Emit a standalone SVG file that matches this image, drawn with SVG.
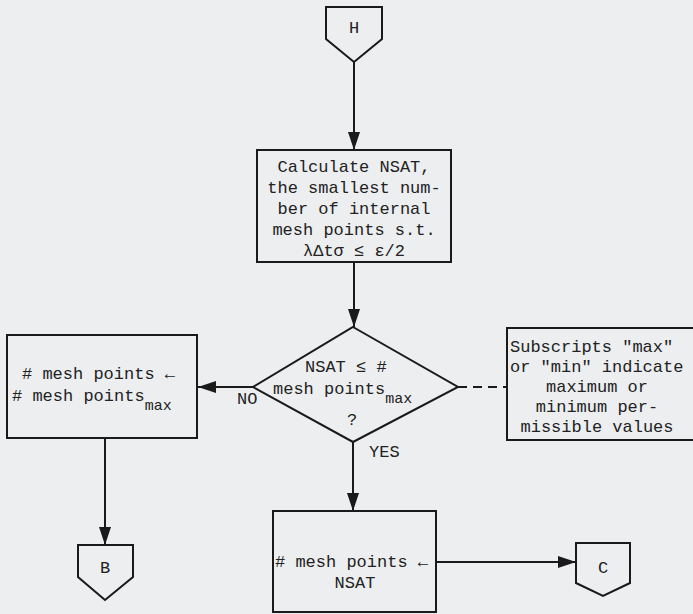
<svg xmlns="http://www.w3.org/2000/svg" width="693" height="614" viewBox="0 0 693 614">
<style>
.bg{fill:#eceef0}
.s{fill:none;stroke:#1a1a1a;stroke-width:2}
.c{stroke:#1a1a1a;stroke-width:2;fill:none}
.d{stroke:#1a1a1a;stroke-width:2;fill:none;stroke-dasharray:9 6}
text{font-family:'Liberation Mono','Courier New',monospace;font-size:17px;fill:#222}
.m{text-anchor:middle}
.sub{font-size:15px}
</style>
<defs>
<marker id="ah" viewBox="0 0 18 12" refX="18" refY="6" markerWidth="18" markerHeight="12" markerUnits="userSpaceOnUse" orient="auto">
<path d="M0,0 L18,6 L0,12 Z" fill="#1a1a1a"/>
</marker>
</defs>
<rect class="bg" x="0" y="0" width="693" height="614"/>
<g id="connectors">
<line class="c" x1="354" y1="62" x2="354" y2="150" marker-end="url(#ah)"/>
<line class="c" x1="354" y1="262" x2="354" y2="327" marker-end="url(#ah)"/>
<line class="c" x1="253" y1="387" x2="198" y2="387" marker-end="url(#ah)"/>
<line class="c" x1="353" y1="442" x2="353" y2="511" marker-end="url(#ah)"/>
<line class="c" x1="105" y1="438" x2="105" y2="545" marker-end="url(#ah)"/>
<line class="c" x1="436" y1="562" x2="576" y2="562" marker-end="url(#ah)"/>
<line class="d" x1="458" y1="387" x2="507" y2="387"/>
<text x="237" y="404">NO</text>
<text x="369" y="457">YES</text>
</g>
<g id="H">
<path class="s" d="M326,7 L382,7 L382,39 L354,62 L326,39 Z"/>
<text class="m" x="354" y="33">H</text>
</g>
<g id="calc">
<rect class="s" x="257" y="150" width="194" height="112"/>
<text class="m" x="354" y="172">Calculate NSAT,</text>
<text class="m" x="354" y="193">the smallest num-</text>
<text class="m" x="354" y="214">ber of internal</text>
<text class="m" x="354" y="235">mesh points s.t.</text>
<text class="m" x="354" y="256">λΔtσ ≤ ε/2</text>
</g>
<g id="decision">
<path class="s" d="M353,327 L458,387 L353,442 L253,387 Z"/>
<text x="305" y="372">NSAT ≤ #</text>
<text x="273" y="394">mesh points<tspan class="sub" dy="9">max</tspan></text>
<text class="m" x="352" y="425">?</text>
</g>
<g id="note">
<rect class="s" x="507" y="328" width="200" height="112"/>
<text x="510" y="352">Subscripts "max"</text>
<text x="510" y="372">or "min" indicate</text>
<text class="m" x="597" y="392">maximum or</text>
<text class="m" x="597" y="412">minimum per-</text>
<text class="m" x="597" y="432">missible values</text>
</g>
<g id="setmax">
<rect class="s" x="7" y="335" width="190" height="103"/>
<text x="22" y="379"># mesh points ←</text>
<text x="12" y="401"># mesh points<tspan class="sub" dy="9">max</tspan></text>
</g>
<g id="B">
<path class="s" d="M78,545 L133,545 L133,577 L105,600 L78,577 Z"/>
<text class="m" x="105" y="573">B</text>
</g>
<g id="setnsat">
<rect class="s" x="273" y="511" width="163" height="101"/>
<text x="275" y="567"># mesh points ←</text>
<text class="m" x="355" y="588">NSAT</text>
</g>
<g id="C">
<path class="s" d="M576,543 L630,543 L630,583 L603,596 L576,583 Z"/>
<text class="m" x="603" y="573">C</text>
</g>
</svg>
